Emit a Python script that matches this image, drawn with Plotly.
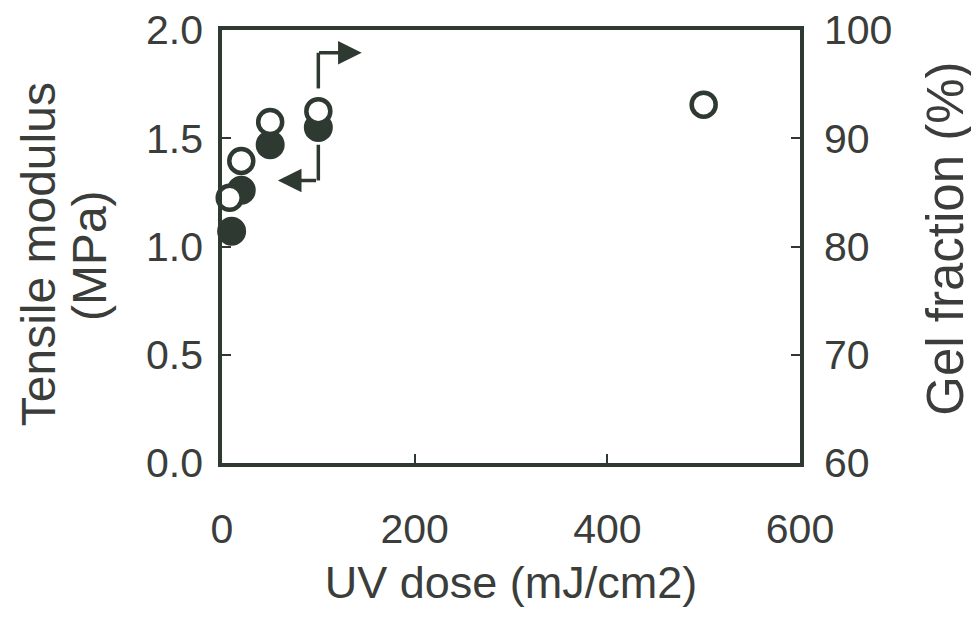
import plotly.graph_objects as go

# Data
uv_dose = [10, 20, 50, 100]
tensile_modulus = [1.07, 1.26, 1.47, 1.55]          # MPa, filled circles (left axis)
uv_dose_gel = [8, 20, 50, 100, 500]
gel_fraction = [84.5, 87.9, 91.5, 92.5, 93.1]        # %, open circles (right axis)

x_ticks = [0, 200, 400, 600]
y_ticks = [0.0, 0.5, 1.0, 1.5, 2.0]
y2_ticks = [60, 70, 80, 90, 100]

INK = "#2e3a31"
TXT = "#3a3d3a"
FONT = "Liberation Sans, Arial, sans-serif"

fig = go.Figure()

fig.add_trace(go.Scatter(
    x=uv_dose, y=tensile_modulus, mode="markers", yaxis="y",
    marker=dict(symbol="circle", size=26, color=INK, line=dict(color=INK, width=3)),
    cliponaxis=False, showlegend=False,
))
fig.add_trace(go.Scatter(
    x=uv_dose_gel, y=gel_fraction, mode="markers", yaxis="y2",
    marker=dict(symbol="circle", size=24, color="white", line=dict(color=INK, width=4.5)),
    cliponaxis=False, showlegend=False,
))

# Bracket arrows pointing to the relevant axis
arrow_up = dict(x=100, y0=1.73, y1=1.895, tip=145)
arrow_dn = dict(x=100, y0=1.47, y1=1.305, tip=58)
for a in (arrow_up, arrow_dn):
    fig.add_shape(type="line", xref="x", yref="y",
                  x0=a["x"], x1=a["x"], y0=a["y0"], y1=a["y1"],
                  line=dict(color=INK, width=3.5))
    fig.add_annotation(xref="x", yref="y", axref="x", ayref="y",
                       x=a["tip"], y=a["y1"], ax=a["x"] - 0.8, ay=a["y1"],
                       showarrow=True, arrowhead=2, arrowsize=1.35,
                       arrowwidth=3.5, arrowcolor=INK, text="")

# Axis titles (rotated text placed in the margins)
title_font = dict(family=FONT, size=48, color=TXT)
fig.add_annotation(xref="paper", yref="paper", x=-0.3184, y=0.482, xanchor="center", yanchor="middle",
                   text="Tensile modulus", textangle=-90, showarrow=False, font=title_font)
fig.add_annotation(xref="paper", yref="paper", x=-0.2302, y=0.48, xanchor="center", yanchor="middle",
                   text="(MPa)", textangle=-90, showarrow=False, font=title_font)
fig.add_annotation(xref="paper", yref="paper", x=1.2526, y=0.518, xanchor="center", yanchor="middle",
                   text="Gel fraction (%)", textangle=-90, showarrow=False,
                   font=dict(family=FONT, size=51, color=TXT))

axis_common = dict(
    showline=True, linecolor=INK, linewidth=3.5,
    ticks="inside", ticklen=9, tickwidth=1.5, tickcolor=INK,
    showgrid=False, zeroline=False, ticklabeloverflow="allow",
    automargin=False,
    tickfont=dict(family=FONT, size=41, color=TXT),
)

fig.update_layout(
    width=971, height=620,
    margin=dict(l=214, r=179, t=22, b=165),
    paper_bgcolor="white", plot_bgcolor="white",
    font=dict(family=FONT, color=TXT),
    xaxis=dict(
        range=[0, 600], tickvals=x_ticks, mirror=True,
        ticklabelstandoff=27,
        title=dict(text="UV dose (mJ/cm2)", font=dict(family=FONT, size=45, color=TXT), standoff=17),
        **axis_common,
    ),
    yaxis=dict(
        range=[0, 2.0], tickvals=y_ticks, tickformat=".1f",
        ticklabelstandoff=7,
        **axis_common,
    ),
    yaxis2=dict(
        range=[60, 100], tickvals=y2_ticks, overlaying="y", side="right",
        ticklabelstandoff=12,
        **axis_common,
    ),
)

fig.write_html("out.html")
